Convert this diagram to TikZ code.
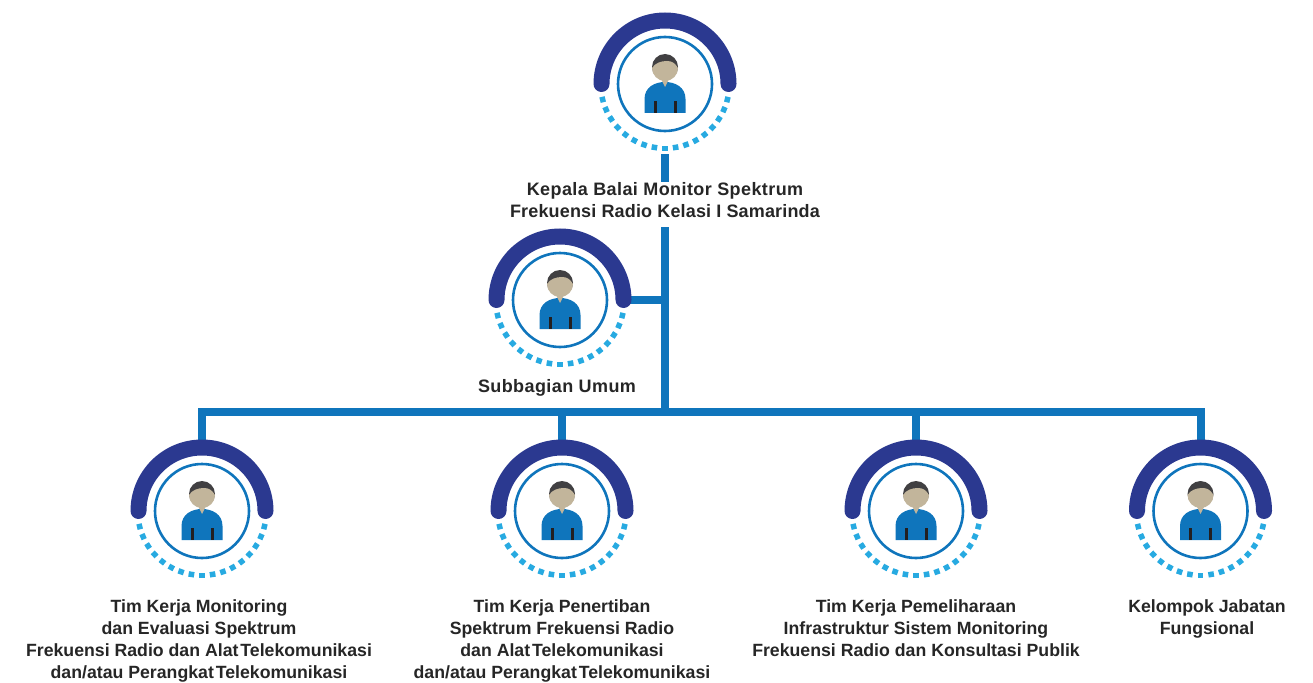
\documentclass[tikz,border=0pt]{standalone}
\usepackage{fontspec}
\setmainfont{Liberation Sans}
\definecolor{archblue}{HTML}{2B3990}
\definecolor{linkblue}{HTML}{0F75BC}
\definecolor{dotblue}{HTML}{27AAE1}
\definecolor{skin}{HTML}{C2B59B}
\definecolor{hair}{HTML}{414042}
\definecolor{strap}{HTML}{231F20}
\tikzset{
  link/.style={draw=linkblue, line width=8pt, line join=miter},
  orglabel/.style={font=\bfseries\fontsize{17.7}{22}\selectfont, text=black!85, align=center, inner sep=0pt},
  widelabel/.style={orglabel, font=\bfseries\fontsize{18}{22}\selectfont\addfontfeature{LetterSpace=2.3}},
  person/.pic={
    % arch and rings
    \draw[archblue, line width=16pt, line cap=round] (-63.5,0) arc[start angle=180, end angle=360, radius=63.5];
    \draw[linkblue, line width=2.6pt] (0,0) circle[radius=47];
    \foreach \a in {0,...,16}
      \fill[dotblue, rotate=-166+9.5*\a] (61.5,-2.8) rectangle (67,2.8);
    % figure
    \fill[linkblue] (-20.5,29) -- (-20.5,15) .. controls (-20.5,3) and (-10,-2) .. (0,-2)
      .. controls (10,-2) and (20.5,3) .. (20.5,15) -- (20.5,29) -- cycle;
    \fill[hair] (0,-17) circle[radius=13];
    \fill[skin] (-13,-16) arc[start angle=180, end angle=0, radius=13]
      .. controls (10,-21) and (7,-23) .. (2,-23) .. controls (-4,-23) and (-10,-21) .. (-13,-16) -- cycle;
    \fill[skin] (-4,-5) -- (4,-5) -- (0,3) -- cycle;
    \fill[strap] (-11.5,17) rectangle (-8.5,29);
    \fill[strap] (8.5,17) rectangle (11.5,29);
  }
}
\begin{document}
\begin{tikzpicture}[x=1pt, y=-1pt]
\useasboundingbox (0,0) rectangle (1313,682);

% Connector points
\coordinate (kepala) at (665,84);
\coordinate (subbagian) at (560,300);
\coordinate (monitoring) at (202,511);
\coordinate (penertiban) at (562,511);
\coordinate (pemeliharaan) at (916,511);
\coordinate (fungsional) at (1200.5,511);
\coordinate (trunktop) at (665,154);
\coordinate (trunkmid) at (665,227);
\coordinate (branch) at (665,300);
\coordinate (subbagianarch) at (623,300);
\coordinate (bus) at (665,412);

% Labels
\node (kepalatext) [widelabel] at (665,200) {Kepala Balai Monitor Spektrum\\\addfontfeature{LetterSpace=0.9}Frekuensi Radio Kelasi I Samarinda};
\node (subbagiantext) [widelabel] at (557,388) {Subbagian Umum};
\node (monitoringtext) [orglabel] at (199,641) {Tim Kerja Monitoring\\dan Evaluasi Spektrum\\Frekuensi Radio dan Alat\kern-3pt\ Telekomunikasi\\dan/atau Perangkat\kern-3pt\ Telekomunikasi};
\node (penertibantext) [orglabel] at (562,641) {Tim Kerja Penertiban\\Spektrum Frekuensi Radio\\dan Alat\kern-3pt\ Telekomunikasi\\dan/atau Perangkat\kern-3pt\ Telekomunikasi};
\node (pemeliharaantext) [orglabel] at (916,628) {Tim Kerja Pemeliharaan\\Infrastruktur Sistem Monitoring\\Frekuensi Radio dan Konsultasi Publik};
\node (fungsionaltext) [orglabel] at (1207,619) {Kelompok Jabatan\\Fungsional};

% Connectors
\draw[link] (trunktop) -- (kepalatext.north -| trunktop);
\draw[link] (trunkmid) -- (bus);
\draw[link] (subbagianarch) -- (branch);
\draw[link] ([yshift=66pt]monitoring) |- (bus) -| ([yshift=66pt]fungsional);
\foreach \n in {penertiban,pemeliharaan}
  \draw[link] (\n |- bus) -- ([yshift=66pt]\n);

% Icons
\foreach \n in {kepala,subbagian,monitoring,penertiban,pemeliharaan,fungsional}
  \pic at (\n) {person};

\end{tikzpicture}
\end{document}
